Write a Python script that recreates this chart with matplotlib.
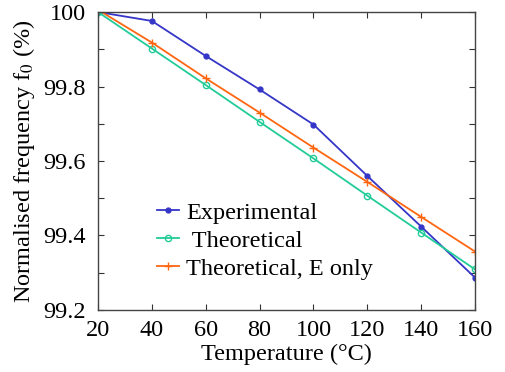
import matplotlib
matplotlib.use("Agg")
import matplotlib.pyplot as plt
import numpy as np

# Temperature (°C)
temps = [20, 40, 60, 80, 100, 120, 140, 160]

# Normalised frequency f0 (%)
experimental = [100.0, 99.976, 99.882, 99.792, 99.698, 99.560, 99.424, 99.287]
theoretical = [100.0, 99.902, 99.804, 99.705, 99.607, 99.507, 99.408, 99.309]
theoretical_e = [100.006, 99.918, 99.822, 99.730, 99.636, 99.544, 99.450, 99.357]

plt.rcParams["font.family"] = ["Liberation Serif", "DejaVu Serif"]
plt.rcParams["mathtext.fontset"] = "stix"

fig = plt.figure(figsize=(5.06, 3.72), dpi=100)
ax = fig.add_axes([0.1937, 0.1667, 0.745, 0.801])

ax.plot(temps, experimental, color="#3535c8", marker="o", markersize=3.5,
        linewidth=1.3, label="Experimental")
ax.plot(temps, theoretical, color="#22cc99", marker="o", markersize=4.5,
        markerfacecolor="none", linewidth=1.3, label=" Theoretical")
ax.plot(temps, theoretical_e, color="#ff6611", marker="+", markersize=6,
        linewidth=1.3, label="Theoretical, E only")

ax.set_xlim(20, 160)
ax.set_ylim(99.2, 100)
ax.set_xticks(range(20, 161, 20))
ax.set_yticks(np.arange(99.2, 100.01, 0.1))
ax.set_yticklabels(["99.2", "", "99.4", "", "99.6", "", "99.8", "", "100"])
ax.tick_params(direction="in", top=True, right=True, labelsize=17.5,
               length=4, color="#333333")
ax.tick_params(axis="x", pad=7)
ax.tick_params(axis="y", pad=9)
for s in ax.spines.values():
    s.set_color("#444444")
    s.set_linewidth(1.0)

ax.set_xlabel("Temperature (°C)", fontsize=17.5, labelpad=2)
ax.set_ylabel("Normalised frequency f$_0$ (%)", fontsize=17.5, labelpad=4)

ax.legend(loc="center left", bbox_to_anchor=(0.156, 0.232), frameon=False,
          fontsize=17.5, handlelength=0.9, handletextpad=0.3,
          labelspacing=0.25, borderpad=0, borderaxespad=0)

fig.savefig("out.png", dpi=100)
